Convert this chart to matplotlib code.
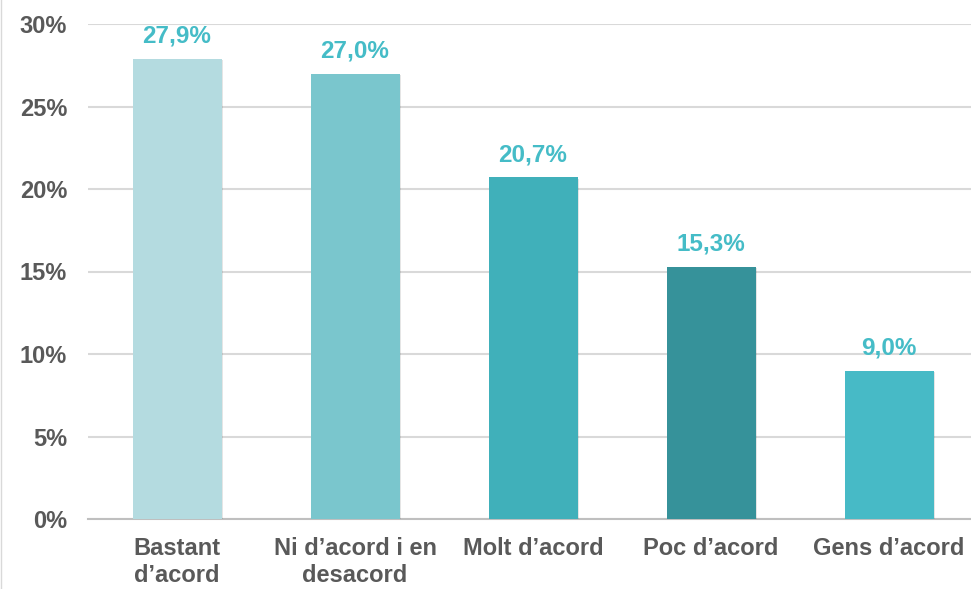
import matplotlib.pyplot as plt
import matplotlib.patheffects as pe

categories = ["Bastant\nd\u2019acord", "Ni d\u2019acord i en\ndesacord", "Molt d\u2019acord",
              "Poc d\u2019acord", "Gens d\u2019acord"]
values = [27.9, 27.0, 20.7, 15.3, 9.0]
value_labels = ["27,9%", "27,0%", "20,7%", "15,3%", "9,0%"]
colors = ["#B4DBE0", "#7AC6CD", "#40B0BA", "#36929A", "#47BAC6"]
yticks = [0, 5, 10, 15, 20, 25, 30]

plt.rcParams['font.family'] = ['Liberation Sans', 'DejaVu Sans']

fig = plt.figure(figsize=(9.71, 5.89), dpi=100)
ax = fig.add_axes([88 / 971, 1 - 519 / 589, 883 / 971, 495 / 589])

x = list(range(len(values)))
bars = ax.bar(x, values, width=0.5, color=colors, zorder=3)
for b in bars:
    b.set_path_effects([pe.SimplePatchShadow(offset=(1.0, -1.0), shadow_rgbFace='#000000', alpha=0.10),
                        pe.Normal()])

for xi, v, lab in zip(x, values, value_labels):
    ax.text(xi, v + 0.65, lab, ha='center', va='bottom', color='#45BCC7',
            fontsize=17.5, fontweight='bold', zorder=4)

ax.set_ylim(0, 30)
ax.set_xlim(-0.5, 4.46)
ax.set_yticks(yticks)
ax.set_yticklabels([f"{t}%" for t in yticks])
ax.set_xticks(x)
ax.set_xticklabels(categories)
ax.grid(axis='y', color='#D9D9D9', linewidth=1.5, zorder=0)
for s in ['top', 'right', 'left']:
    ax.spines[s].set_visible(False)
ax.spines['bottom'].set_color('#BFBFBF')
ax.spines['bottom'].set_linewidth(1.5)
ax.spines['bottom'].set_zorder(2)
ax.tick_params(axis='both', length=0, colors='#595959', labelsize=17)
ax.tick_params(axis='y', pad=15)
ax.tick_params(axis='x', pad=13)
for t in ax.get_xticklabels() + ax.get_yticklabels():
    t.set_fontweight('bold')
    t.set_linespacing(1.2)

fig.add_artist(plt.Line2D([1 / 971, 1 / 971], [0, 1], color='#D9D9D9', linewidth=1))

fig.savefig("out.png", dpi=100)
